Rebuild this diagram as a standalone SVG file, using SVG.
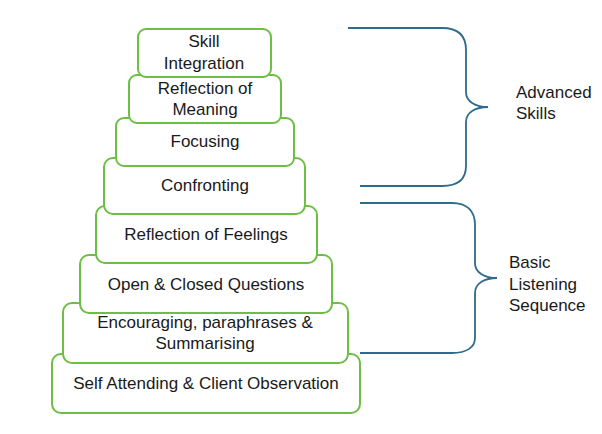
<svg xmlns="http://www.w3.org/2000/svg" width="602" height="434" viewBox="0 0 602 434">
<style>
.box{fill:#fff;stroke:#6DBE45;stroke-width:2}
.t{font-family:"Liberation Sans",Arial,sans-serif;font-size:17px;fill:#1a1a1a;text-anchor:middle}
.l{font-family:"Liberation Sans",Arial,sans-serif;font-size:17px;fill:#1a1a1a}
.brace{fill:none;stroke:#2E6B8C;stroke-width:1.8}
</style>
<rect width="602" height="434" fill="#fff"/>
<g id="n8"><rect class="box" x="52" y="354" width="308" height="59" rx="9"/><text class="t" x="206" y="389">Self Attending &amp; Client Observation</text></g>
<g id="n7"><rect class="box" x="63" y="303" width="285" height="60" rx="9"/><text class="t" x="205" y="328">Encouraging, paraphrases &amp;</text><text class="t" x="205" y="349">Summarising</text></g>
<g id="n6"><rect class="box" x="80" y="255" width="252" height="58" rx="9"/><text class="t" x="206" y="290">Open &amp; Closed Questions</text></g>
<g id="n5"><rect class="box" x="96" y="206" width="221" height="57" rx="9"/><text class="t" x="206" y="240">Reflection of Feelings</text></g>
<g id="n4"><rect class="box" x="104" y="158" width="201" height="56" rx="9"/><text class="t" x="205" y="191">Confronting</text></g>
<g id="n3"><rect class="box" x="116" y="118" width="178" height="48" rx="8"/><text class="t" x="205" y="147">Focusing</text></g>
<g id="n2"><rect class="box" x="129" y="75" width="152" height="48" rx="8"/><text class="t" x="205" y="94">Reflection of</text><text class="t" x="205" y="115">Meaning</text></g>
<g id="n1"><rect class="box" x="138" y="29" width="133" height="48" rx="8"/><text class="t" x="204" y="47">Skill</text><text class="t" x="204" y="69">Integration</text></g>
<g id="connectors">
<path class="brace" d="M348,28 H442 C458,28 466,36 466,50 V92 C466,102 476,107 488,107 C476,107 466,112 466,122 V166 C466,180 458,186 442,186 H360"/>
<path class="brace" d="M360,203 H452 C467,203 475,211 475,225 V263 C475,273 485,278 497,278 C485,278 475,283 475,293 V338 C475,347 467,353 452,353 H360"/>
</g>
<g id="labels">
<text class="l" x="516" y="98">Advanced</text>
<text class="l" x="516" y="119">Skills</text>
<text class="l" x="509" y="268">Basic</text>
<text class="l" x="509" y="290">Listening</text>
<text class="l" x="509" y="311">Sequence</text>
</g>
</svg>
